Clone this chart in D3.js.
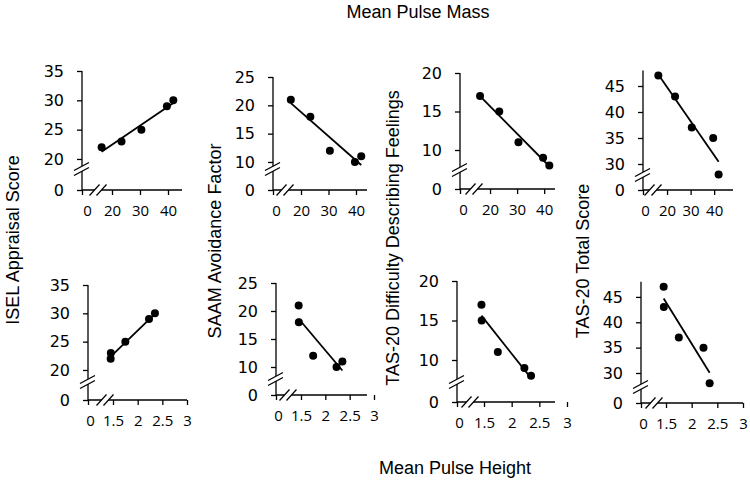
<!DOCTYPE html>
<html>
<head>
<meta charset="utf-8">
<script src="https://cdn.jsdelivr.net/npm/d3@7/dist/d3.min.js"></script>
<style>
html,body{margin:0;padding:0;background:#fff;}
svg{display:block;}
</style>
</head>
<body>
<svg id="chart" width="750" height="485"></svg>
<script>
// ---- data ----
const pulseMass   = [16.3, 23.4, 30.5, 39.6, 41.9];
const pulseHeight = [1.36, 1.37, 1.75, 2.23, 2.35];
const iselScore   = [22, 23, 25, 29, 30];
const saamAvoid   = [21, 18, 12, 10, 11];
const tasDDF      = [17, 15, 11, 9, 8];
const tasTotal    = [47, 43, 37, 35, 28];

const massTicks   = [0, 20, 30, 40];
const heightTicks = [0, 1.5, 2, 2.5, 3];
const iselTicks   = [0, 20, 25, 30, 35];
const saamTicks   = [0, 10, 15, 20, 25];
const ddfTicks    = [0, 10, 15, 20];
const totalTicks  = [0, 30, 35, 40, 45];

const measures = [
  {name: "ISEL Appraisal Score", values: iselScore, ticks: iselTicks},
  {name: "SAAM Avoidance Factor", values: saamAvoid, ticks: saamTicks},
  {name: "TAS-20 Difficulty Describing Feelings", values: tasDDF, ticks: ddfTicks},
  {name: "TAS-20 Total Score", values: tasTotal, ticks: totalTicks}
];
const predictors = [
  {name: "Mean Pulse Mass", values: pulseMass, ticks: massTicks},
  {name: "Mean Pulse Height", values: pulseHeight, ticks: heightTicks}
];

// ---- layout (broken axes as piecewise scales) ----
const layout = [
  // top row: pulse mass
  {row:0, col:0, ox:82,  oy:190, yDom:[0,18,35], yR:[190,170.7,71],   xDom:[0,12,45], xR:[82,89.6,182],  xEnd:182, zeroShift:5, yb:21, xb:16},
  {row:0, col:1, ox:273, oy:190, yDom:[0,8,25],  yR:[190,173.3,77],   xDom:[0,12,44], xR:[273,279,367],  xEnd:367, zeroShift:3, yb:21, xb:12},
  {row:0, col:2, ox:460, oy:189, yDom:[0,7,20],  yR:[189,173.1,73],   xDom:[0,12,44], xR:[460,468.4,555],xEnd:555, zeroShift:3, yb:19, xb:14},
  {row:0, col:3, ox:643, oy:190, yDom:[0,27,48], yR:[190,179.6,70.4], xDom:[0,12,48], xR:[643,648.2,733],xEnd:733, zeroShift:2, yb:15, xb:10},
  // bottom row: pulse height
  {row:1, col:0, ox:88,  oy:400, yDom:[0,18,35], yR:[400,381.3,285], xDom:[0,1.5,3], xR:[88,113,187],   xEnd:187, zeroShift:2, yb:18, xb:17},
  {row:1, col:1, ox:276, oy:395, yDom:[0,8,25],  yR:[395,378.2,283], xDom:[0,1.5,3], xR:[276,301,374],   xEnd:367, zeroShift:2, yb:16, xb:12},
  {row:1, col:2, ox:457, oy:402, yDom:[0,7,20],  yR:[402,383.7,281], xDom:[0,1.5,3], xR:[457,484,567],   xEnd:555, zeroShift:2, yb:20, xb:13},
  {row:1, col:3, ox:641, oy:403, yDom:[0,27,48], yR:[403,388.2,281.7], xDom:[0,1.5,3], xR:[641,666,743], xEnd:743, zeroShift:2, yb:16, xb:13}
];

const titleFont = "'Liberation Sans', Arial, sans-serif";
const yTickFont = "'DejaVu Sans', Verdana, sans-serif";
const xTickFont = "'Open Sans', sans-serif";

const svg = d3.select("#chart");

function regression(xs, ys) {
  const mx = d3.mean(xs), my = d3.mean(ys);
  let sxy = 0, sxx = 0;
  xs.forEach((x, i) => { sxy += (x - mx) * (ys[i] - my); sxx += (x - mx) * (x - mx); });
  const b = sxy / sxx;
  return x => my + b * (x - mx);
}

layout.forEach(p => {
  const m = measures[p.col];
  const pr = predictors[p.row];
  const x = d3.scaleLinear().domain(p.xDom).range(p.xR);
  const y = d3.scaleLinear().domain(p.yDom).range(p.yR);
  const g = svg.append("g");

  // axis lines
  g.append("line").attr("x1", p.ox).attr("x2", p.ox)
    .attr("y1", p.oy).attr("y2", y(p.yDom[p.yDom.length-1]))
    .attr("stroke", "#000").attr("stroke-width", 1.3);
  g.append("line").attr("x1", p.ox).attr("x2", p.xEnd)
    .attr("y1", p.oy).attr("y2", p.oy)
    .attr("stroke", "#000").attr("stroke-width", 1.3);

  // y axis ticks
  const ya = d3.axisLeft(y).tickValues(m.ticks).tickSize(5).tickSizeOuter(0).tickPadding(13);
  const yg = g.append("g").attr("transform", `translate(${p.ox},0)`).call(ya);
  yg.select(".domain").remove();
  yg.selectAll(".tick line").attr("stroke", "#000").attr("stroke-width", 1.3);
  yg.selectAll(".tick text").attr("font-family", yTickFont).attr("font-size", 16).attr("fill", "#000");

  // x axis ticks
  const xa = d3.axisBottom(x).tickValues(pr.ticks).tickSize(5).tickSizeOuter(0).tickPadding(10)
    .tickFormat(d3.format("~g"));
  const xg = g.append("g").attr("transform", `translate(0,${p.oy})`).call(xa);
  xg.select(".domain").remove();
  xg.selectAll(".tick line").attr("stroke", "#000").attr("stroke-width", 1.3);
  xg.selectAll(".tick text").attr("font-family", xTickFont).attr("font-size", 15).attr("fill", "#000")
    .attr("dx", d => d === 0 ? p.zeroShift : 0);

  // break marks on y axis
  const by = p.oy - p.yb, bx = p.ox;
  g.append("polygon")
    .attr("points", [[bx-8, by+1.5],[bx+7, by-6.5],[bx+7, by-1.5],[bx-8, by+6.5]].map(d=>d.join(",")).join(" "))
    .attr("fill", "#fff");
  [-2.5, 2.5].forEach(o => {
    g.append("line").attr("x1", bx-8).attr("y1", by+4+o).attr("x2", bx+7).attr("y2", by-4+o)
      .attr("stroke", "#000").attr("stroke-width", 1.2);
  });
  // break marks on x axis
  const cx = p.ox + p.xb, cy = p.oy;
  g.append("polygon")
    .attr("points", [[cx-8.5, cy+5.5],[cx+1.5, cy-5.5],[cx+8.5, cy-5.5],[cx-1.5, cy+5.5]].map(d=>d.join(",")).join(" "))
    .attr("fill", "#fff");
  [-3.5, 3.5].forEach(o => {
    g.append("line").attr("x1", cx-5+o).attr("y1", cy+5.5).attr("x2", cx+5+o).attr("y2", cy-5.5)
      .attr("stroke", "#000").attr("stroke-width", 1.2);
  });

  // regression line
  const f = regression(pr.values, m.values);
  const xmin = d3.min(pr.values), xmax = d3.max(pr.values);
  g.append("line")
    .attr("x1", x(xmin)).attr("y1", y(f(xmin)))
    .attr("x2", x(xmax)).attr("y2", y(f(xmax)))
    .attr("stroke", "#000").attr("stroke-width", 1.8);

  // points
  g.selectAll("circle.pt").data(m.values).join("circle")
    .attr("class", "pt")
    .attr("cx", (d, i) => x(pr.values[i]))
    .attr("cy", d => y(d))
    .attr("r", 4)
    .attr("fill", "#000");
});

// y axis titles (rotated)
const yTitlePos = [[13, 240], [215, 241], [393, 238], [583, 261]];
measures.forEach((m, i) => {
  svg.append("text")
    .attr("transform", `translate(${yTitlePos[i][0]},${yTitlePos[i][1]}) rotate(-90)`)
    .attr("text-anchor", "middle").attr("dominant-baseline", "central")
    .attr("font-family", titleFont).attr("font-size", 18).attr("fill", "#000")
    .text(m.name);
});

// x titles
svg.append("text").attr("x", 418).attr("y", 18).attr("text-anchor", "middle")
  .attr("font-family", titleFont).attr("font-size", 18).attr("fill", "#000")
  .text(predictors[0].name);
svg.append("text").attr("x", 455).attr("y", 474).attr("text-anchor", "middle")
  .attr("font-family", titleFont).attr("font-size", 18).attr("fill", "#000")
  .text(predictors[1].name);
</script>
</body>
</html>
